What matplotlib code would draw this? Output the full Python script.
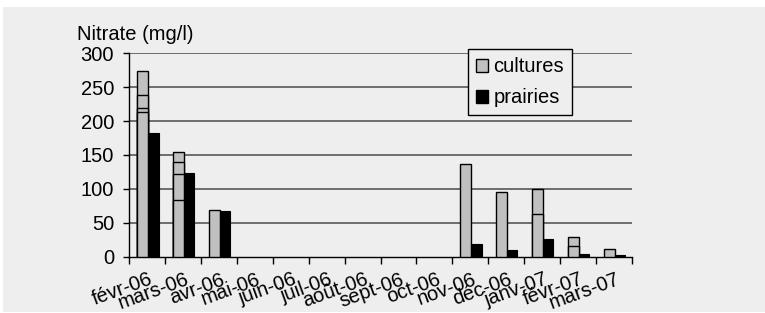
import numpy as np
import matplotlib
matplotlib.use("Agg")
import matplotlib.pyplot as plt
from matplotlib.patches import Rectangle, Patch

plt.rcParams['font.family'] = ['Liberation Sans', 'DejaVu Sans']

months = ["févr-06", "mars-06", "avr-06", "mai-06", "juin-06", "juil-06", "août-06",
          "sept-06", "oct-06", "nov-06", "déc-06", "janv-07", "févr-07", "mars-07"]
nan = np.nan
# several measurements per month for cultures (drawn on top of each other)
cultures_1 = [274, 155, 69, nan, nan, nan, nan, nan, nan, 136, 95, 100, 28.5, 11.5]
cultures_2 = [238, 139, nan, nan, nan, nan, nan, nan, nan, nan, nan, 63.5, 15.3, nan]
cultures_3 = [220, 121.5, nan, nan, nan, nan, nan, nan, nan, nan, nan, nan, nan, nan]
cultures_4 = [214, 83, nan, nan, nan, nan, nan, nan, nan, nan, nan, nan, nan, nan]
prairies = [182, 123, 68, nan, nan, nan, nan, nan, nan, 19, 10, 25.5, 4, 2]

bg = "#eeeeee"
fig = plt.figure(figsize=(7.65, 3.13), dpi=100, facecolor="white")
fig.patches.append(Rectangle((3 / 765, 1 / 313), 1, 1 - 8 / 313, transform=fig.transFigure,
                             facecolor=bg, edgecolor="none", zorder=-10))

ax = fig.add_axes([129.3 / 765, 1 - 256.7 / 313, 502.4 / 765, 203.4 / 313])
ax.set_facecolor("none")

x = np.arange(len(months))
w = 0.31
for vals in [cultures_1, cultures_2, cultures_3, cultures_4]:
    ax.bar(x - 0.13, vals, width=w, color="#c0c0c0", edgecolor="black", linewidth=1, zorder=3)
ax.bar(x + 0.17, prairies, width=0.29, color="black", edgecolor="black", linewidth=0.8, zorder=3)

ax.set_xlim(-0.5, len(months) - 0.5)
ax.set_ylim(0, 300)
ax.set_yticks(range(0, 301, 50))
for v in range(50, 301, 50):
    ax.axhline(v, color="#4a4a4a", linewidth=1.1, zorder=1)

for s in ["top", "right"]:
    ax.spines[s].set_visible(False)
ax.spines["left"].set_linewidth(1)
ax.spines["bottom"].set_linewidth(1)

ax.set_xticks(np.arange(len(months) + 1) - 0.5)
ax.set_xticklabels([])
ax.set_xticks(x + 0.05, minor=True)
ax.set_xticklabels(months, minor=True)
ax.tick_params(axis="x", which="major", length=5, width=1, direction="out")
ax.tick_params(axis="x", which="minor", length=0, pad=9.5, labelsize=14.5)
ax.tick_params(axis="y", length=4, width=1, pad=7, labelsize=14.5)
plt.setp(ax.get_xticklabels(minor=True), rotation=20, ha="right", rotation_mode="anchor")

fig.text(77 / 765, 1 - 40 / 313, "Nitrate (mg/l)", fontsize=14.5, va="baseline", ha="left")

handles = [Patch(facecolor="#c0c0c0", edgecolor="black", linewidth=1),
           Patch(facecolor="black", edgecolor="black")]
leg = ax.legend(handles, ["cultures", "prairies"], loc="upper left",
                bbox_to_anchor=(468.3 / 765, 1 - 49.3 / 313), bbox_transform=fig.transFigure,
                fontsize=14.5, frameon=True, fancybox=False, borderaxespad=0,
                handlelength=0.6, handleheight=0.6, handletextpad=0.25,
                labelspacing=0.6, borderpad=0.4)
leg.get_frame().set_edgecolor("black")
leg.get_frame().set_facecolor(bg)
leg.get_frame().set_linewidth(1)
leg.get_frame().set_alpha(None)
leg.set_zorder(5)

fig.savefig("out.png", dpi=100, facecolor=fig.get_facecolor())
